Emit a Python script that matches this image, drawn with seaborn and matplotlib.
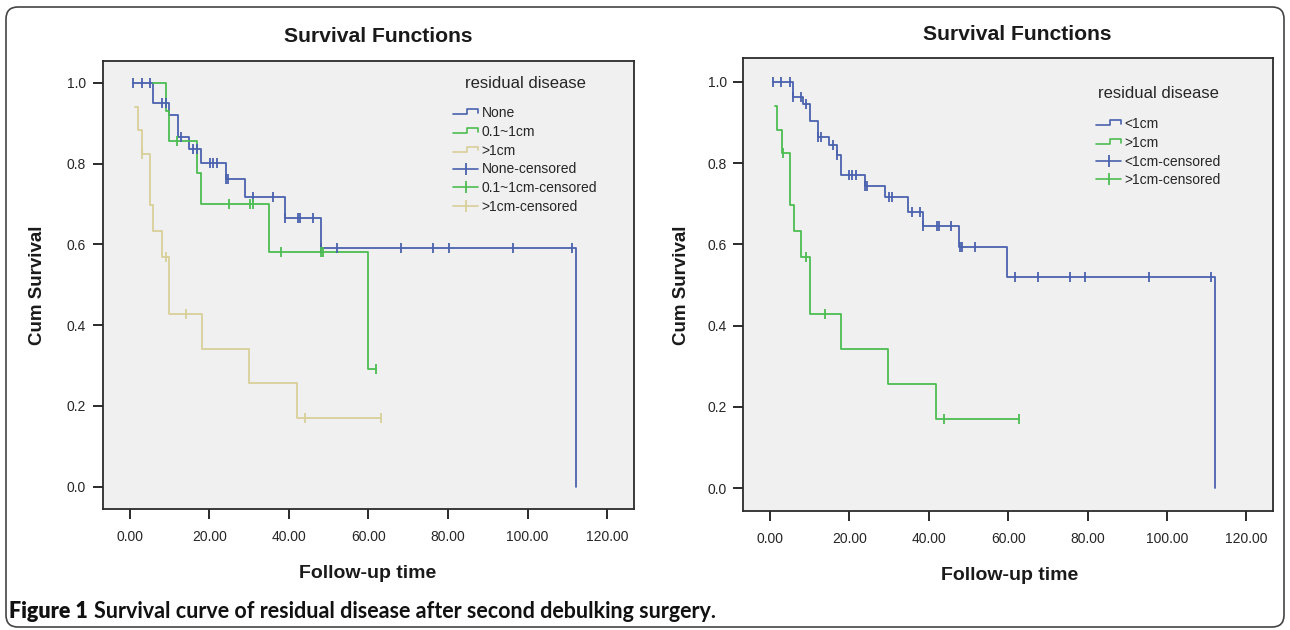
"""
Kaplan-Meier style survival curves by residual disease (two panels).
Saves the figure to out.png.
"""

import numpy as np
import pandas as pd
import matplotlib
matplotlib.use("Agg")
import matplotlib.pyplot as plt
import seaborn as sns
from matplotlib.lines import Line2D
from matplotlib.legend_handler import HandlerBase
from matplotlib.patches import FancyBboxPatch

# ---- data (time in months, cumulative survival) ----
# left panel: None / 0.1~1cm / >1cm
none_t = [0.7, 5.9, 9.9, 12.0, 14.9, 17.9, 24.2, 29.0, 39.0, 48.0, 112.1]
none_s = [1.0, 0.950, 0.921, 0.865, 0.836, 0.801, 0.761, 0.717, 0.665, 0.591, 0.0]
none_cens = [0.7, 3.1, 5.1, 8.0, 9.0, 12.9, 15.9, 16.9, 20.2, 21.0, 21.9, 24.3, 24.8,
             31.0, 36.1, 39.1, 42.4, 42.8, 46.1, 48.0, 52.0, 68.2, 76.2, 80.2, 96.2, 111.2]

mid_t = [5.9, 9.0, 9.9, 17.0, 17.9, 34.9, 59.9, 62.0]
mid_s = [1.0, 0.929, 0.856, 0.776, 0.700, 0.582, 0.291, 0.291]
mid_cens = [11.9, 25.0, 30.2, 30.9, 38.0, 48.0, 48.6, 62.0]

big_t = [1.3, 2.0, 3.0, 5.1, 5.9, 8.0, 9.95, 18.1, 30.0, 42.1, 63.1]
big_s = [0.941, 0.882, 0.824, 0.697, 0.634, 0.570, 0.428, 0.342, 0.257, 0.171, 0.171]
big_cens = [3.1, 9.0, 14.1, 44.0, 63.1]

# right panel: <1cm / >1cm
lt1_t = [0.8, 5.7, 8.3, 10.0, 12.1, 15.0, 16.8, 17.9, 23.9, 28.9, 34.8, 38.5, 47.7, 59.6, 112.1]
lt1_s = [1.0, 0.964, 0.946, 0.905, 0.865, 0.846, 0.821, 0.772, 0.745, 0.718, 0.681, 0.646,
         0.595, 0.521, 0.0]
lt1_cens = [0.8, 2.9, 5.0, 5.8, 7.9, 9.0, 12.2, 12.8, 15.8, 17.0, 19.8, 20.8, 21.8, 24.0, 24.5,
            30.0, 30.7, 35.7, 37.9, 38.6, 42.1, 42.7, 45.7, 47.8, 48.5, 51.7, 61.7, 67.5,
            75.5, 79.4, 95.5, 111.1]

gt1_t = [1.3, 1.9, 3.1, 5.0, 6.0, 7.9, 10.0, 17.9, 29.8, 41.8, 62.8]
gt1_s = [0.941, 0.882, 0.824, 0.697, 0.634, 0.570, 0.428, 0.342, 0.257, 0.171, 0.171]
gt1_cens = [3.2, 9.0, 13.9, 43.8, 62.8]

left_groups = ["None", "0.1~1cm", ">1cm"]
right_groups = ["<1cm", ">1cm"]
x_ticks = [0, 20, 40, 60, 80, 100, 120]
y_ticks = [0.0, 0.2, 0.4, 0.6, 0.8, 1.0]

BLUE = "#4a62ae"
GREEN = "#4dbd52"
KHAKI = "#d8cf98"

# ---- style ----
sns.set_theme(style="ticks")
plt.rcParams["font.family"] = ["Liberation Sans", "DejaVu Sans"]
plt.rcParams["axes.edgecolor"] = "#2b2b2b"
plt.rcParams["axes.linewidth"] = 1.3


class StepKey:
    def __init__(self, color):
        self.color = color


class HandlerStep(HandlerBase):
    # little step symbol used by SPSS for the survival lines
    def create_artists(self, legend, orig_handle, xdescent, ydescent, width, height,
                       fontsize, trans):
        x0, w = -xdescent, width
        lo, hi = -ydescent + height * 0.25, -ydescent + height * 0.8
        xs = [x0, x0 + w * 0.55, x0 + w * 0.55, x0 + w, x0 + w]
        ys = [lo, lo, hi, hi, lo + (hi - lo) * 0.3]
        return [Line2D(xs, ys, color=orig_handle.color, lw=1.2, transform=trans)]


def step_level(times, levels, t):
    i = np.searchsorted(times, t, side="right") - 1
    return levels[max(i, 0)]


def draw_curve(ax, times, levels, cens, color):
    df = pd.DataFrame({"time": times, "surv": levels})
    sns.lineplot(data=df, x="time", y="surv", ax=ax, color=color, lw=1.3,
                 drawstyle="steps-post", estimator=None, sort=False)
    cdf = pd.DataFrame({"time": cens,
                        "surv": [step_level(times, levels, c) for c in cens]})
    sns.scatterplot(data=cdf, x="time", y="surv", ax=ax, color=color, marker="|",
                    s=50, linewidth=1.3, zorder=3)


def style_axes(ax, xlim, ylim):
    ax.set_facecolor("#f0f0f0")
    ax.set_xlim(*xlim)
    ax.set_ylim(*ylim)
    ax.set_xticks(x_ticks)
    ax.set_xticklabels([f"{v:.2f}" for v in x_ticks])
    ax.set_yticks(y_ticks)
    ax.set_yticklabels([f"{v:.1f}" for v in y_ticks])
    ax.tick_params(axis="x", length=7, width=1.4, pad=8, labelsize=10, color="#2b2b2b")
    ax.tick_params(axis="y", length=7, width=1.4, pad=5, labelsize=10, color="#2b2b2b")
    ax.set_xlabel("")
    ax.set_ylabel("")
    for sp in ax.spines.values():
        sp.set_visible(True)


def add_legend(fig, ax, labels, colors, x_px, y_px):
    handles = [StepKey(c) for c in colors]
    handles += [Line2D([0], [0], color=c, lw=1.2, marker="|", markersize=8, mew=1.3)
                for c in colors]
    names = list(labels) + [f"{g}-censored" for g in labels]
    leg = ax.legend(handles, names, title="residual disease", frameon=False,
                    loc="upper left", bbox_to_anchor=(x_px / 1290, 1 - y_px / 630),
                    bbox_transform=fig.transFigure, fontsize=10, title_fontsize=12,
                    handlelength=1.85, handletextpad=0.25, labelspacing=0.35,
                    borderpad=0, borderaxespad=0,
                    handler_map={StepKey: HandlerStep()})
    leg._legend_box.sep = 11
    return leg


fig = plt.figure(figsize=(12.9, 6.3), dpi=100)
fig.patch.set_facecolor("white")

ax1 = fig.add_axes([102.7 / 1290, 1 - 509 / 630, (634.3 - 102.7) / 1290, (509 - 61) / 630])
ax2 = fig.add_axes([743.3 / 1290, 1 - 511 / 630, (1273 - 743.3) / 1290, (511 - 58) / 630])

# left panel
draw_curve(ax1, none_t, none_s, none_cens, BLUE)
draw_curve(ax1, mid_t, mid_s, mid_cens, GREEN)
draw_curve(ax1, big_t, big_s, big_cens, KHAKI)
style_axes(ax1, (-6.8, 126.8), (-0.055, 1.054))
add_legend(fig, ax1, left_groups, [BLUE, GREEN, KHAKI], 452.7, 75.5)

# right panel
draw_curve(ax2, lt1_t, lt1_s, lt1_cens, BLUE)
draw_curve(ax2, gt1_t, gt1_s, gt1_cens, GREEN)
style_axes(ax2, (-6.7, 126.7), (-0.056, 1.059))
add_legend(fig, ax2, right_groups, [BLUE, GREEN], 1095.7, 86.5)

# titles and axis labels
for x, y in [(378, 36), (1017, 34)]:
    fig.text(x / 1290, 1 - y / 630, "Survival Functions", ha="center", va="center",
             fontsize=15.2, fontweight="bold", color="#1a1a1a")
for x, y in [(368, 573), (1010, 576)]:
    fig.text(x / 1290, 1 - y / 630, "Follow-up time", ha="center", va="center",
             fontsize=14, fontweight="bold", color="#1a1a1a")
for x, y in [(38, 285), (681, 285)]:
    fig.text(x / 1290, 1 - y / 630, "Cum Survival", ha="center", va="center",
             rotation=90, fontsize=13.5, fontweight="bold", color="#1a1a1a")

# caption
cap1 = fig.text(9 / 1290, 1 - 612 / 630, "Figure 1", ha="left", va="center",
                fontsize=15.5, fontweight="heavy", family=["Lato", "DejaVu Sans"], color="#111")
fig.canvas.draw()
bb = cap1.get_window_extent(fig.canvas.get_renderer())
fig.text((bb.x1 + 6) / 1290, 1 - 612 / 630,
         "Survival curve of residual disease after second debulking surgery.",
         ha="left", va="center", fontsize=15.5, fontweight="bold",
         family=["Lato", "DejaVu Sans"], color="#111")

# rounded outer frame
frame = FancyBboxPatch((0.06, 0.03), 12.78, 6.2, boxstyle="round,pad=0,rounding_size=0.12",
                       transform=fig.dpi_scale_trans, fill=False, lw=1.2, ec="#444444")
fig.patches.append(frame)

fig.savefig("out.png", dpi=100)
